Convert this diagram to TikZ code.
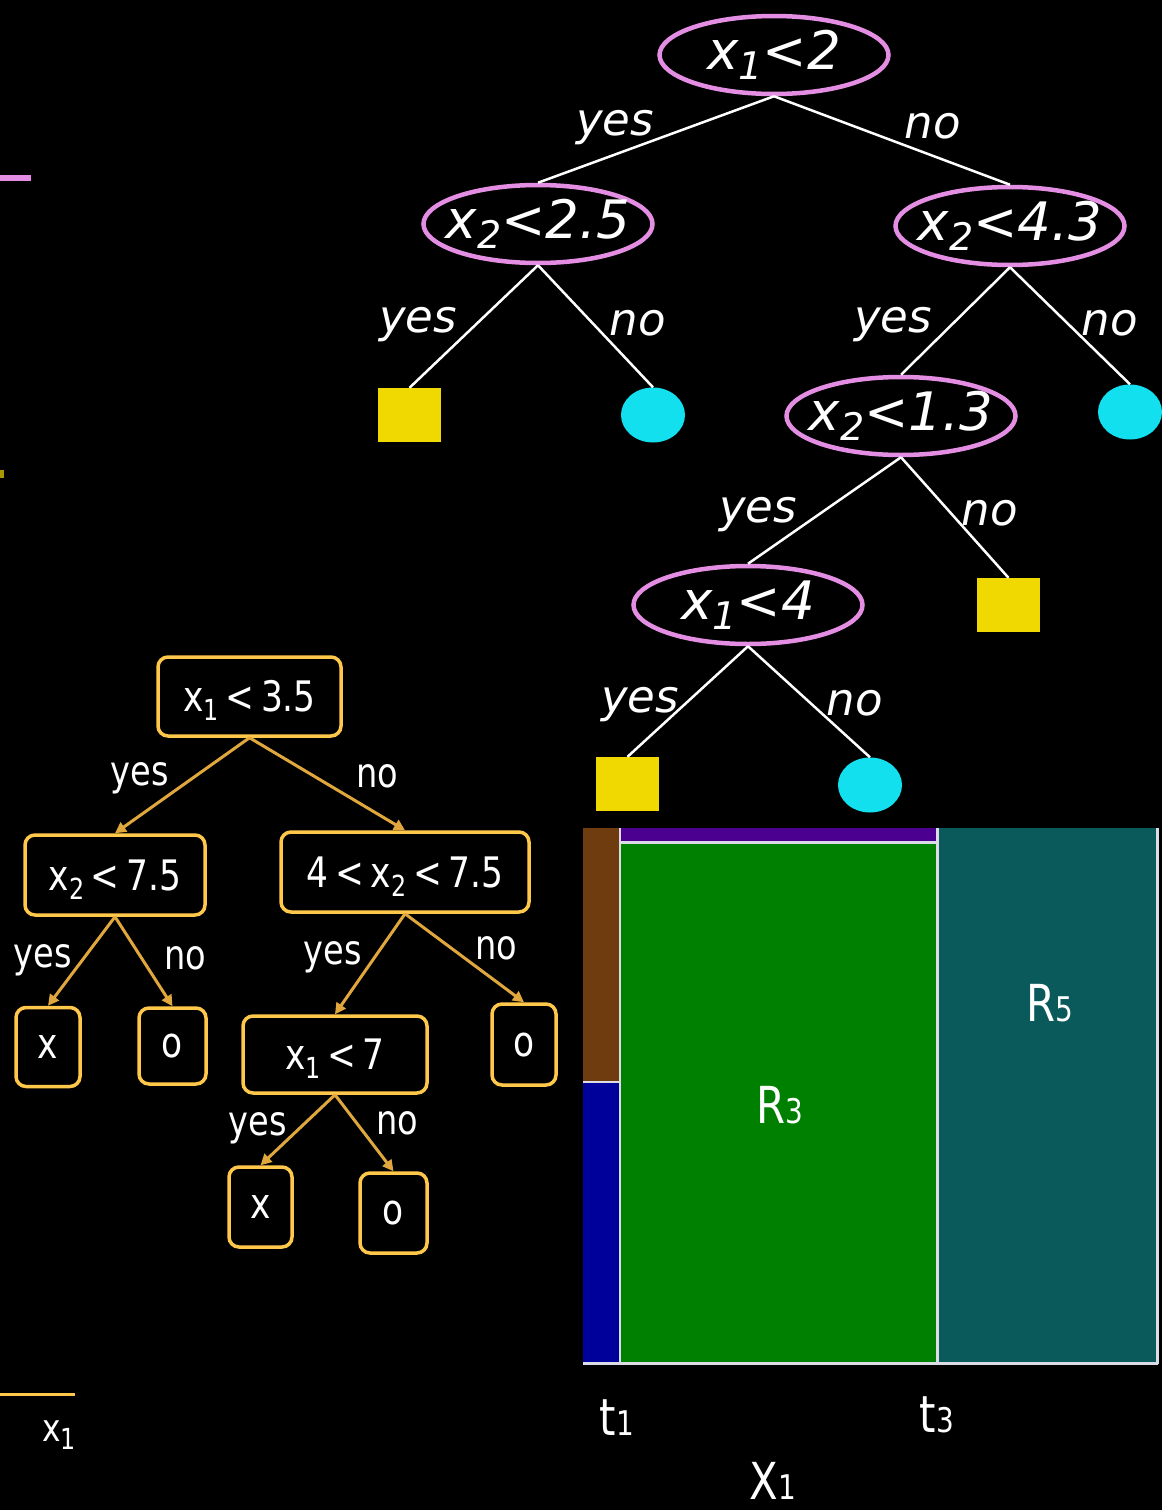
\documentclass[tikz,border=0pt]{standalone}
\usepackage{fontspec}
\setmainfont{DejaVu Sans}
\newfontfamily\condfont[FakeStretch=0.82]{DejaVu Sans}
\usetikzlibrary{shapes.geometric,arrows.meta}
\definecolor{pinkc}{HTML}{E38DE3}
\definecolor{leafyellow}{HTML}{EFD900}
\definecolor{leafcyan}{HTML}{12E0EE}
\definecolor{ygold}{HTML}{FFC84A}
\definecolor{yedgec}{HTML}{E0A83C}
\definecolor{brownc}{HTML}{6E3C0F}
\definecolor{bluec}{HTML}{00009A}
\definecolor{purplec}{HTML}{4B0090}
\definecolor{greenc}{HTML}{008000}
\definecolor{tealc}{HTML}{0A5A5B}
\definecolor{sepc}{HTML}{DCDCE6}
\newcommand{\smalldig}[1]{{\fontsize{34}{34}\selectfont #1}}
\newcommand{\isub}[1]{\raisebox{-0.2em}{\fontsize{38}{38}\selectfont #1}}
\newcommand{\ysub}[1]{\raisebox{-0.22em}{\fontsize{29}{29}\selectfont #1}}
\newcommand{\tsp}{\hspace{0.16em}}
\tikzset{
  split/.style={ellipse, draw=pinkc, line width=4.5pt, minimum width=229pt, minimum height=78pt,
    inner sep=0pt},
  slab/.style={text=white, inner sep=0pt, font=\fontsize{53}{53}\selectfont\itshape},
  tlab/.style={text=white, inner sep=0pt, font=\fontsize{45}{45}\selectfont\itshape},
  leafsq/.style={rectangle, fill=leafyellow, minimum width=63pt, minimum height=54pt, inner sep=0pt},
  leafci/.style={ellipse, fill=leafcyan, minimum width=64pt, minimum height=55pt, inner sep=0pt},
  tedge/.style={draw=white, line width=2.5pt},
  ybox/.style={rectangle, rounded corners=10pt, draw=ygold, line width=3.5pt, text=white,
    inner sep=0pt, text height=30pt, text depth=0pt, font=\condfont\fontsize{42}{42}\selectfont},
  yleaf/.style={ybox, text height=23pt},
  ylab/.style={text=white, inner sep=0pt, font=\condfont\fontsize{41}{41}\selectfont},
  yedge/.style={draw=yedgec, line width=3pt, -{Triangle[length=11pt,width=11pt]}},
  sep/.style={draw=sepc, line width=2.5pt},
  plab/.style={text=white, inner sep=0pt, anchor=base, font=\condfont\fontsize{51}{51}\selectfont},
}
\begin{document}
\begin{tikzpicture}[x=1pt,y=-1pt]
\fill[black] (0,0) rectangle (1162,1510);
\useasboundingbox (0,0) rectangle (1162,1510);

% stray marks at the left edge
\draw[pinkc, line width=6pt] (0,178) -- (31,178);
\fill[leafyellow!70!black] (0,470) rectangle (4,478);
\draw[ygold, line width=3pt] (0,1394) -- (75,1394);
\node[text=white, inner sep=0pt, anchor=base, font=\condfont\fontsize{38}{38}\selectfont] (xlab) at (59,1441) {x\ysub{1}};

% ---------------- top tree ----------------
\node[split, label={[slab]center:x\isub{1}<2}] (n1) at (774,55) {};
\node[split, label={[slab]center:x\isub{2}<2.5}] (n2) at (538,224) {};
\node[split, label={[slab]center:x\isub{2}<4.3}] (n3) at (1010,226) {};
\node[split, label={[slab]center:x\isub{2}<1.3}] (n4) at (901,416) {};
\node[split, label={[slab]center:x\isub{1}<4}] (n5) at (748,605) {};
\node[leafsq] (l1) at (409.5,415) {};
\node[leafci] (l2) at (653,415) {};
\node[leafci] (l3) at (1130,412) {};
\node[leafsq] (l4) at (1008.5,605) {};
\node[leafsq] (l5) at (627.5,784) {};
\node[leafci] (l6) at (870,785) {};

\draw[tedge] (n1.south) -- (n2.north);
\draw[tedge] (n1.south) -- (n3.north);
\draw[tedge] (n2.south) -- (l1.north);
\draw[tedge] (n2.south) -- (l2.north);
\draw[tedge] (n3.south) -- (n4.north);
\draw[tedge] (n3.south) -- (l3.north);
\draw[tedge] (n4.south) -- (n5.north);
\draw[tedge] (n4.south) -- (l4.north);
\draw[tedge] (n5.south) -- (l5.north);
\draw[tedge] (n5.south) -- (l6.north);

\node[tlab] (ty1) at (615,128) {yes};
\node[tlab] (tn1) at (933,126) {no};
\node[tlab] (ty2) at (418,325) {yes};
\node[tlab] (tn2) at (638,323) {no};
\node[tlab] (ty3) at (893,325) {yes};
\node[tlab] (tn3) at (1110,323) {no};
\node[tlab] (ty4) at (758,515) {yes};
\node[tlab] (tn4) at (990,513) {no};
\node[tlab] (ty5) at (640,705) {yes};
\node[tlab] (tn5) at (855,703) {no};

% ---------------- yellow tree ----------------
\node[ybox, minimum width=183pt, minimum height=79pt] (r) at (249.5,696.5) {x\ysub{1}\tsp<\tsp3.5};
\node[ybox, minimum width=180pt, minimum height=80pt] (a) at (115,875) {x\ysub{2}\tsp<\tsp7.5};
\node[ybox, minimum width=248pt, minimum height=80pt] (b) at (405,872) {4\tsp<\tsp x\ysub{2}\tsp<\tsp7.5};
\node[yleaf, minimum width=64pt, minimum height=79pt] (c) at (48,1047) {x};
\node[yleaf, minimum width=67pt, minimum height=76pt] (d) at (172.5,1046) {o};
\node[ybox, minimum width=184pt, minimum height=77pt] (e) at (335,1054.5) {x\ysub{1}\tsp<\tsp7};
\node[yleaf, minimum width=64pt, minimum height=81pt] (f) at (524,1044.5) {o};
\node[yleaf, minimum width=63pt, minimum height=80pt] (g) at (260.5,1207) {x};
\node[yleaf, minimum width=67pt, minimum height=80pt] (h) at (393.5,1213) {o};

\draw[yedge] (r.south) -- (a.north);
\draw[yedge] (r.south) -- (b.north);
\draw[yedge] (a.south) -- (c.north);
\draw[yedge] (a.south) -- (d.north);
\draw[yedge] (b.south) -- (e.north);
\draw[yedge] (b.south) -- (f.north);
\draw[yedge] (e.south) -- (g.north);
\draw[yedge] (e.south) -- (h.north);

\node[ylab] (yy1) at (140,778) {yes};
\node[ylab] (yn1) at (377,776) {no};
\node[ylab] (yy2) at (43,960) {yes};
\node[ylab] (yn2) at (185,958) {no};
\node[ylab] (yy3) at (333,957) {yes};
\node[ylab] (yn3) at (496,948) {no};
\node[ylab] (yy4) at (258,1128) {yes};
\node[ylab] (yn4) at (397,1123) {no};

% ---------------- partition ----------------
\fill[brownc] (583,828) rectangle (619,1081);
\fill[bluec] (583,1083) rectangle (619,1363);
\fill[purplec] (620,828) rectangle (937,841);
\fill[greenc] (620,843) rectangle (937,1363);
\fill[tealc] (938,828) rectangle (1157,1363);
\draw[sep] (620,828) -- (620,1364);
\draw[sep] (583,1082) -- (620,1082);
\draw[sep] (620,842.5) -- (937,842.5);
\draw[sep] (937.5,828) -- (937.5,1364);
\draw[sep] (583,1363.5) -- (1158,1363.5);
\draw[sep] (1157.5,828) -- (1157.5,1364);

\node[plab] (R3) at (780,1123) {R\smalldig{3}};
\node[plab] (R5) at (1050,1021) {R\smalldig{5}};
\node[plab] (t1) at (617,1435) {t\smalldig{1}};
\node[plab] (t3) at (937,1432) {t\smalldig{3}};
\node[plab] (X1) at (773,1499) {X\smalldig{1}};
\end{tikzpicture}
\end{document}
